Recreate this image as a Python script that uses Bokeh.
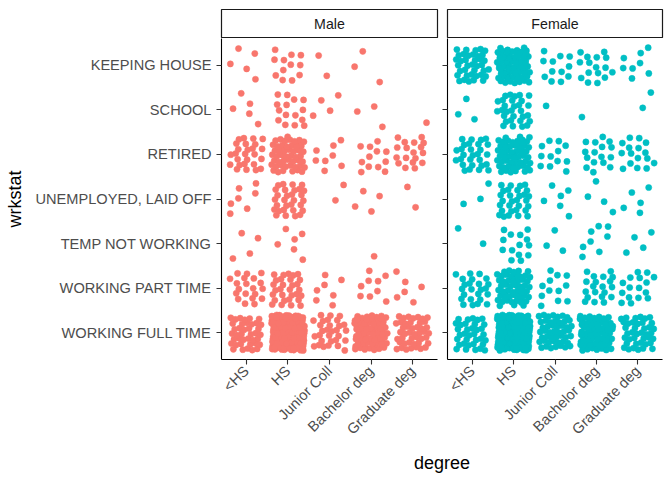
import numpy as np
from math import pi
from bokeh.plotting import figure
from bokeh.models import Range1d, FixedTicker, ColumnDataSource
from bokeh.layouts import row, column
from bokeh.core.properties import value
from bokeh.embed import file_html
from bokeh.resources import INLINE

# ---- data (counts of respondents per cell) ----
degrees = ["<HS", "HS", "Junior Coll", "Bachelor deg", "Graduate deg"]
statuses = ["WORKING FULL TIME", "WORKING PART TIME", "TEMP NOT WORKING",
            "UNEMPLOYED, LAID OFF", "RETIRED", "SCHOOL", "KEEPING HOUSE"]
sexes = ["Male", "Female"]

# rows follow `statuses`, columns follow `degrees`
male_full_time = [40, 180, 30, 75, 45]
male_part_time = [20, 30, 7, 9, 6]
male_temp_not_working = [4, 6, 0, 1, 0]
male_unemployed = [7, 30, 2, 4, 2]
male_retired = [26, 52, 8, 12, 18]
male_school = [5, 15, 4, 3, 1]
male_keeping_house = [5, 12, 2, 3, 0]

female_full_time = [35, 170, 50, 75, 40]
female_part_time = [24, 55, 12, 20, 16]
female_temp_not_working = [2, 14, 3, 8, 4]
female_unemployed = [3, 30, 6, 4, 5]
female_retired = [28, 58, 12, 16, 16]
female_school = [3, 30, 1, 1, 2]
female_keeping_house = [38, 65, 12, 16, 8]

male_counts = [male_full_time, male_part_time, male_temp_not_working, male_unemployed,
               male_retired, male_school, male_keeping_house]
female_counts = [female_full_time, female_part_time, female_temp_not_working, female_unemployed,
                 female_retired, female_school, female_keeping_house]
sex_colors = ["#F8766D", "#00BFC4"]

FONT = "Liberation Sans"
TICK_FS = "14.6px"
TITLE_FS = "18px"
JIT = 0.4  # jitter half-width, as geom_jitter's default


def jittered(counts, seed0):
    """Spread each cell's points over the jitter box with a deterministic
    low-discrepancy sequence (presentation only)."""
    g = 1.32471795724474602596
    a1, a2 = 1.0 / g, 1.0 / (g * g)
    xs, ys = [], []
    for si, row_counts in enumerate(counts):
        for di, n in enumerate(row_counts):
            if n == 0:
                continue
            k = np.arange(n) + 17 * (si * 5 + di) + seed0
            u = (0.5 + k * a1) % 1.0
            v = (0.5 + k * a2) % 1.0
            xs.extend((di + 1) + (u - 0.5) * 2 * JIT)
            ys.extend((si + 1) + (v - 0.5) * 2 * JIT)
    return xs, ys


def style_axes(p, show_ylabels):
    for ax in (p.xaxis[0], p.yaxis[0]):
        ax.axis_line_color = "black"
        ax.axis_line_width = 1.1
        ax.major_tick_line_color = "#333333"
        ax.major_tick_line_width = 1.1
        ax.major_tick_out = 5
        ax.major_tick_in = 0
        ax.minor_tick_line_color = None
        ax.major_label_text_font = FONT
        ax.major_label_text_font_size = TICK_FS
        ax.major_label_text_color = "#4D4D4D"
    p.xaxis.ticker = FixedTicker(ticks=list(range(1, len(degrees) + 1)))
    p.xaxis.major_label_overrides = {i + 1: d for i, d in enumerate(degrees)}
    p.xaxis.major_label_orientation = pi / 4
    p.xaxis.major_label_standoff = 4
    p.yaxis.ticker = FixedTicker(ticks=list(range(1, len(statuses) + 1)))
    if show_ylabels:
        p.yaxis.major_label_overrides = {i + 1: s for i, s in enumerate(statuses)}
        p.yaxis.major_label_standoff = 5
        p.yaxis.axis_label = "wrkstat"
        p.yaxis.axis_label_text_font = FONT
        p.yaxis.axis_label_text_font_size = TITLE_FS
        p.yaxis.axis_label_text_font_style = "normal"
        p.yaxis.axis_label_text_color = "black"
        p.yaxis.axis_label_standoff = 8
    else:
        p.yaxis.major_label_overrides = {i + 1: "" for i in range(len(statuses))}
        p.yaxis.major_label_text_color = None
        p.yaxis.major_label_standoff = 0


def panel(counts, color, seed0, left_border, right_border, frame_w, show_ylabels):
    p = figure(width=left_border + frame_w + right_border, height=410,
               x_range=Range1d(0.4, 5.6), y_range=Range1d(0.4, 7.6),
               output_backend="svg", toolbar_location=None,
               min_border_left=left_border, min_border_right=right_border,
               min_border_top=0, min_border_bottom=89)
    p.grid.visible = False
    p.outline_line_color = None
    p.background_fill_color = "white"
    xs, ys = jittered(counts, seed0)
    src = ColumnDataSource(dict(x=xs, y=ys))
    p.scatter("x", "y", source=src, size=6.2, fill_color=color, line_color=color,
              line_width=0.5)
    style_axes(p, show_ylabels)
    return p


def strip(label, left_border, right_border, frame_w):
    s = figure(width=left_border + frame_w + right_border, height=38,
               x_range=Range1d(0, 1), y_range=Range1d(0, 1),
               output_backend="svg", toolbar_location=None,
               x_axis_location=None, y_axis_location=None,
               min_border_left=left_border, min_border_right=right_border,
               min_border_top=9, min_border_bottom=0)
    s.grid.visible = False
    s.outline_line_color = "#1A1A1A"
    s.outline_line_width = 1.2
    s.text(x=[0.5], y=[0.5], text=[label], text_align="center", text_baseline="middle",
           text_font=value(FONT), text_font_size="14.2px", text_color="#1A1A1A")
    return s


pL = panel(male_counts, sex_colors[0], 3, 221, 2, 216, True)
pR = panel(female_counts, sex_colors[1], 101, 8, 10, 215, False)
sL = strip(sexes[0], 221, 2, 216)
sR = strip(sexes[1], 8, 10, 215)

deg = figure(width=672, height=32, x_range=Range1d(0, 1), y_range=Range1d(0, 1),
             output_backend="svg", toolbar_location=None,
             x_axis_location=None, y_axis_location=None,
             min_border_left=221, min_border_right=10, min_border_top=0, min_border_bottom=0)
deg.grid.visible = False
deg.outline_line_color = None
deg.text(x=[0.5], y=[0.55], text=["degree"], text_align="center", text_baseline="middle",
         text_font=value(FONT), text_font_size=TITLE_FS, text_color="black")

layout = column(row(column(sL, pL), column(sR, pR)), deg)
open("out.html", "w").write(file_html(layout, INLINE))
